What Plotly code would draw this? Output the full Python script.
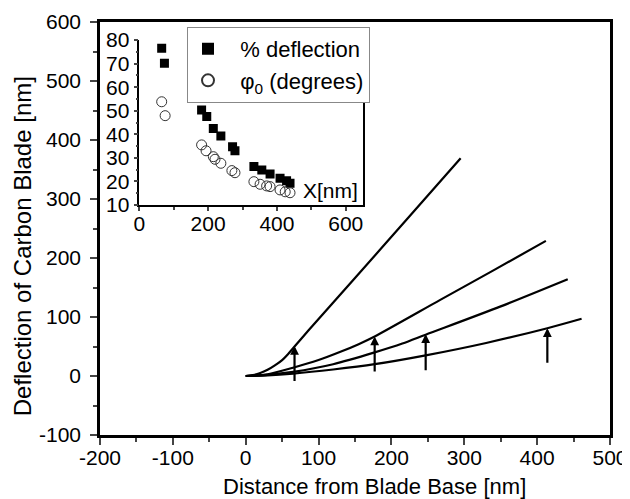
import plotly.graph_objects as go

# ---- main chart: deflection curves ----
c1_x = [0, 10, 20, 30, 40, 50, 58, 67, 86, 150, 220, 295]
c1_y = [0, 1.5, 5, 10.5, 18, 27, 37, 50, 77, 166, 264, 369]

c2_x = [0, 30, 65, 100, 130, 155, 177, 267, 340, 412]
c2_y = [0, 3, 14, 27, 41, 54, 67, 129, 179, 229]

c3_x = [0, 30, 65, 120, 177, 215, 247, 350, 442]
c3_y = [0, 2, 7, 20, 40, 55, 70, 118, 164]

c4_x = [0, 30, 65, 120, 177, 247, 330, 414, 461]
c4_y = [0, 1, 4, 11, 20, 35, 56, 81, 97]

# force arrows (x position, tail y, tip y)
arrow_x = [67, 177, 247, 414]
arrow_tail = [-11, 5, 7, 20]
arrow_tip = [51, 67, 71, 81]

# axis tick labels
x_ticks = [-200, -100, 0, 100, 200, 300, 400, 500]
x_ticklabels = ["-200", "-100", "0", "100", "200", "300", "400", "500"]
y_ticks = [-100, 0, 100, 200, 300, 400, 500, 600]
y_ticklabels = ["-100", "0", "100", "200", "300", "400", "500", "600"]

x_title = "Distance from Blade Base [nm]"
y_title = "Deflection of Carbon Blade [nm]"

# ---- inset data ----
defl_x = [65, 73, 181, 196, 215, 237, 271, 278, 333, 356, 380, 409, 428, 438]
defl_y = [76.5, 70.1, 50.3, 47.5, 42.5, 39.3, 34.7, 33.0, 26.3, 24.8, 23.2, 21.3, 20.3, 19.2]

phi_x = [65, 75, 181, 194, 215, 220, 237, 269, 278, 333, 351, 370, 380, 409, 424, 438]
phi_y = [53.8, 47.9, 35.5, 33.0, 30.5, 29.4, 27.7, 24.6, 23.7, 19.9, 18.8, 18.1, 17.8, 16.4, 15.6, 15.2]

FONT = "Liberation Sans, Arial, sans-serif"
NB = "\u00a0"

fig = go.Figure()

for xs, ys in [(c1_x, c1_y), (c2_x, c2_y), (c3_x, c3_y), (c4_x, c4_y)]:
    fig.add_trace(go.Scatter(x=xs, y=ys, mode="lines", line=dict(color="black", width=2.2, shape="spline", smoothing=0.8),
                             showlegend=False, hoverinfo="skip", xaxis="x", yaxis="y"))

fig.add_trace(go.Scatter(x=defl_x, y=defl_y, mode="markers", name=NB * 2 + "% deflection",
                         marker=dict(symbol="square", size=9, color="black", line=dict(width=0)),
                         xaxis="x2", yaxis="y2"))
fig.add_trace(go.Scatter(x=phi_x, y=phi_y, mode="markers", name=NB * 2 + "φ<sub>0</sub> (degrees)",
                         marker=dict(symbol="circle-open", size=10, color="#333", line=dict(width=1)),
                         xaxis="x2", yaxis="y2"))

annotations = []
for xa, yt, yh in zip(arrow_x, arrow_tail, arrow_tip):
    annotations.append(dict(x=xa, y=yh, ax=xa, ay=yt, xref="x", yref="y", axref="x", ayref="y",
                            showarrow=True, arrowhead=2, arrowsize=0.8, arrowwidth=2.2, arrowcolor="black", text=""))
annotations.append(dict(x=557, y=16, xref="x2", yref="y2", text="X[nm]", showarrow=False,
                        font=dict(family=FONT, size=21, color="black")))
# axis titles
annotations.append(dict(x=0.539, y=-0.1259, xref="paper", yref="paper", text=x_title, showarrow=False,
                        xanchor="center", yanchor="middle", font=dict(family=FONT, size=22, color="black")))
annotations.append(dict(x=-0.1529, y=0.457, xref="paper", yref="paper", text=y_title, showarrow=False,
                        textangle=-90, xanchor="center", yanchor="middle",
                        font=dict(family=FONT, size=24, color="black")))

# page body has an 8px margin, so the figure is 622x491 and placed at (8, 8)
fig.update_layout(
    width=622, height=491,
    margin=dict(l=92, r=20, t=14, b=64, autoexpand=False),
    paper_bgcolor="white", plot_bgcolor="rgba(0,0,0,0)",
    font=dict(family=FONT, size=21, color="black"),
    showlegend=True,
    legend=dict(x=0.1706, y=0.988, xanchor="left", yanchor="top", bgcolor="white",
                bordercolor="#888", borderwidth=1, font=dict(family=FONT, size=22),
                tracegroupgap=0, itemsizing="constant"),
    xaxis=dict(range=[-200, 500], domain=[0, 1], tickmode="array", tickvals=x_ticks, ticktext=x_ticklabels,
               ticks="outside", ticklen=7, tickwidth=2, ticklabelstandoff=-5,
               showline=True, linewidth=2.5, linecolor="black", mirror=True, showgrid=False, zeroline=False,
               minor=dict(dtick=50, tick0=-200, ticks="outside", ticklen=4, tickwidth=2, showgrid=False),
               tickfont=dict(size=21), anchor="y", automargin=False),
    yaxis=dict(range=[-100, 600], domain=[0, 1], tickmode="array", tickvals=y_ticks, ticktext=y_ticklabels,
               ticks="outside", ticklen=7, tickwidth=2, ticklabelstandoff=5,
               showline=True, linewidth=2.5, linecolor="black", mirror=True, showgrid=False, zeroline=False,
               minor=dict(dtick=50, tick0=-100, ticks="outside", ticklen=4, tickwidth=2, showgrid=False),
               tickfont=dict(size=21), anchor="x", automargin=False),
    xaxis2=dict(range=[0, 651], domain=[0.0771, 0.5163], dtick=200, ticks="outside", ticklen=4, tickwidth=1.5,
                ticklabelstandoff=-5,
                showline=True, linewidth=1.5, linecolor="black", mirror=False, showgrid=False, zeroline=False,
                minor=dict(dtick=100, ticks="outside", ticklen=3, tickwidth=1.5, showgrid=False),
                tickfont=dict(size=21), anchor="y2"),
    yaxis2=dict(range=[10, 80], domain=[0.5569, 0.9564], dtick=10, ticks="outside", ticklen=4, tickwidth=1.5,
                showline=True, linewidth=1.5, linecolor="black", mirror=True, showgrid=False, zeroline=False,
                minor=dict(dtick=5, ticks="outside", ticklen=2, tickwidth=1.5, showgrid=False),
                tickfont=dict(size=21), anchor="x2"),
    annotations=annotations,
)

fig.write_html("out.html")
